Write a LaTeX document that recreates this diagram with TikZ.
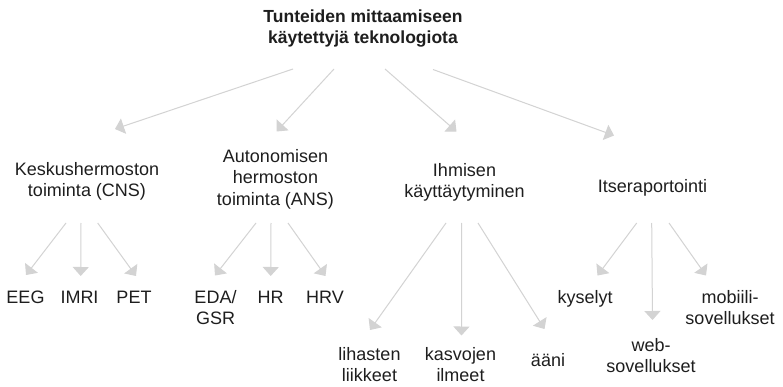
\documentclass[tikz,border=0pt]{standalone}
\usepackage{fontspec}
\setmainfont{Liberation Sans}
\usetikzlibrary{arrows.meta}
\definecolor{arrc}{HTML}{D3D3D3}
\definecolor{txt}{HTML}{1E1E1E}
\begin{document}
\begin{tikzpicture}[x=1pt,y=-1pt,
  lbl/.style={anchor=base,inner sep=0pt,align=center,text=txt,font=\fontsize{18}{21}\selectfont},
  ttl/.style={anchor=base,inner sep=0pt,align=center,text=txt,font=\fontsize{17.5}{21}\selectfont\bfseries},
  arr/.style={draw=arrc,line width=1pt,-{Triangle[length=9pt,width=16pt]}}]
\useasboundingbox[fill=white] (0,0) rectangle (783,387);
% nodes (base = baseline of last line)
\node[ttl] (title) at (363,43.7) {Tunteiden mittaamiseen\\käytettyjä teknologiota};
\node[lbl] (cns) at (87,196.7) {Keskushermoston\\toiminta (CNS)};
\node[lbl] (ans) at (275.5,205) {Autonomisen\\hermoston\\toiminta (ANS)};
\node[lbl] (beh) at (464.5,197.5) {Ihmisen\\käyttäytyminen};
\node[lbl] (self) at (652.5,193) {Itseraportointi};
\node[lbl] (eeg) at (25.5,303.3) {EEG};
\node[lbl] (imri) at (79.5,303.3) {IMRI};
\node[lbl] (pet) at (134,303.3) {PET};
\node[lbl] (eda) at (215.5,324.3) {EDA/\\GSR};
\node[lbl] (hr) at (270.5,303.3) {HR};
\node[lbl] (hrv) at (325,303.3) {HRV};
\node[lbl] (lih) at (369.5,381) {lihasten\\liikkeet};
\node[lbl] (kas) at (460.5,381) {kasvojen\\ilmeet};
\node[lbl] (aani) at (548,366.7) {ääni};
\node[lbl] (kys) at (585,303.3) {kyselyt};
\node[lbl] (web) at (651,372) {web-\\sovellukset};
\node[lbl] (mob) at (730,324.3) {mobiili-\\sovellukset};
% connector ends
\coordinate (t1) at (293,69);   \coordinate (c1) at (115,129);
\coordinate (t2) at (334,69);   \coordinate (c2) at (276.5,131.5);
\coordinate (t3) at (385,69);   \coordinate (c3) at (456.5,131.5);
\coordinate (t4) at (433,69.5); \coordinate (c4) at (614,135.5);
\coordinate (cns1) at (66,223);   \coordinate (eegT) at (26,275);
\coordinate (cns2) at (81,223);   \coordinate (imriT) at (80.7,276);
\coordinate (cns3) at (97.7,223); \coordinate (petT) at (136,276);
\coordinate (ans1) at (256,223);  \coordinate (edaT) at (215,275.5);
\coordinate (ans2) at (271,223);  \coordinate (hrT) at (270.7,276);
\coordinate (ans3) at (288,223);  \coordinate (hrvT) at (325.5,276);
\coordinate (beh1) at (446,223);  \coordinate (lihT) at (370,330);
\coordinate (beh2) at (461.7,223);\coordinate (kasT) at (461.5,335.5);
\coordinate (beh3) at (478,223);  \coordinate (aaniT) at (544.5,329);
\coordinate (self1) at (636.7,223);\coordinate (kysT) at (597.5,275.5);
\coordinate (self2) at (651.7,223);\coordinate (webT) at (652.5,320);
\coordinate (self3) at (669,223); \coordinate (mobT) at (706,275.5);
% connectors
\draw[arr] (t1) -- (c1);
\draw[arr] (t2) -- (c2);
\draw[arr] (t3) -- (c3);
\draw[arr] (t4) -- (c4);
\draw[arr] (cns1) -- (eegT);
\draw[arr] (cns2) -- (imriT);
\draw[arr] (cns3) -- (petT);
\draw[arr] (ans1) -- (edaT);
\draw[arr] (ans2) -- (hrT);
\draw[arr] (ans3) -- (hrvT);
\draw[arr] (beh1) -- (lihT);
\draw[arr] (beh2) -- (kasT);
\draw[arr] (beh3) -- (aaniT);
\draw[arr] (self1) -- (kysT);
\draw[arr] (self2) -- (webT);
\draw[arr] (self3) -- (mobT);
\end{tikzpicture}
\end{document}
